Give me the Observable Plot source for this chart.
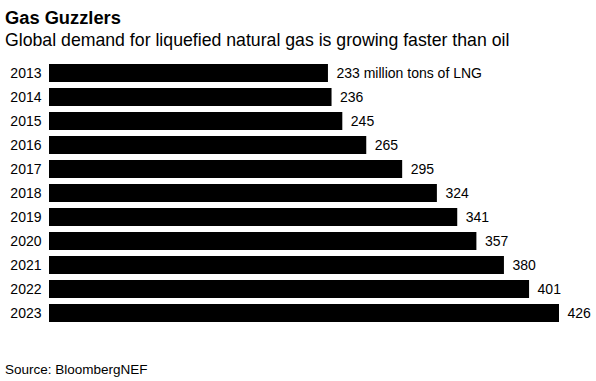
<!DOCTYPE html>
<html>
<head>
<meta charset="utf-8">
<script src="https://cdn.jsdelivr.net/npm/d3@7"></script>
<script src="https://cdn.jsdelivr.net/npm/@observablehq/plot@0.6"></script>
<style>
  html, body { margin: 0; padding: 0; background: #fff; }
  body { width: 596px; height: 381px; overflow: hidden; font-family: "Liberation Sans", Arial, sans-serif; color: #000; }
  #title { font-weight: bold; font-size: 18.3px; line-height: 20px; padding: 7.5px 0 0 5px; }
  #subtitle { font-size: 17.7px; line-height: 22px; padding: 1px 0 0 5px; }
  #source { font-size: 13.5px; line-height: 16px; padding-left: 5px; }
  svg { display: block; }
</style>
</head>
<body>
<div id="title">Gas Guzzlers</div>
<div id="subtitle">Global demand for liquefied natural gas is growing faster than oil</div>
<div id="chart"></div>
<div id="source">Source: BloombergNEF</div>
<script>
const years = ["2013","2014","2015","2016","2017","2018","2019","2020","2021","2022","2023"];
const demand = [233, 236, 245, 265, 295, 324, 341, 357, 380, 401, 426];
const labels = ["233 million tons of LNG","236","245","265","295","324","341","357","380","401","426"];

const data = years.map((y, i) => ({year: y, value: demand[i], label: labels[i]}));

const chart = Plot.plot({
  width: 596,
  height: 311,
  marginLeft: 49,
  marginRight: 37,
  marginTop: 7,
  marginBottom: 33.4,
  style: {fontFamily: '"Liberation Sans", Arial, sans-serif', fontSize: "14px", color: "#000", background: "#fff"},
  x: {domain: [0, 426], axis: null},
  y: {domain: years, padding: 0.23, label: null, tickSize: 0, tickPadding: 8},
  marks: [
    Plot.barX(data, {x: "value", y: "year", fill: "#000"}),
    Plot.text(data, {x: "value", y: "year", text: "label", textAnchor: "start", dx: 8, fill: "#000", fontSize: 14}),
    Plot.axisY({tickSize: 0, tickPadding: 8, fontSize: 14, label: null})
  ]
});
document.getElementById("chart").appendChild(chart);
</script>
</body>
</html>
